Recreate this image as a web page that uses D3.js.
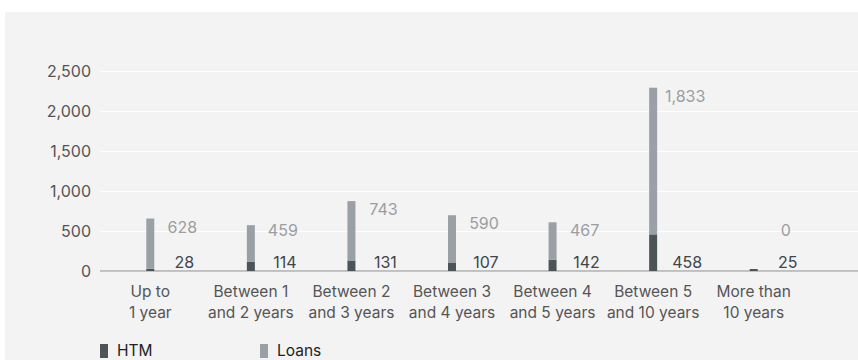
<!DOCTYPE html>
<html>
<head>
<meta charset="utf-8">
<script src="https://cdn.jsdelivr.net/npm/d3@7"></script>
<style>
  body { margin: 0; background: #fff; }
  svg text { font-family: Inter, "Open Sans", sans-serif; }
</style>
</head>
<body>
<div id="chart"></div>
<script>
// data
const categories = [
  ["Up to", "1 year"],
  ["Between 1", "and 2 years"],
  ["Between 2", "and 3 years"],
  ["Between 3", "and 4 years"],
  ["Between 4", "and 5 years"],
  ["Between 5", "and 10 years"],
  ["More than", "10 years"]
];
const htm = [28, 114, 131, 107, 142, 458, 25];
const loans = [628, 459, 743, 590, 467, 1833, 0];
const yTicks = [0, 500, 1000, 1500, 2000, 2500];
const seriesNames = ["HTM", "Loans"];

const W = 858, H = 360;
const colors = { HTM: "#4b5457", Loans: "#9aa0a5" };

let svg = d3.select("#chart")
    .append("svg")
    .attr("width", W)
    .attr("height", H);

// grey panel
svg.append("rect")
    .attr("x", 5).attr("y", 12)
    .attr("width", W - 5).attr("height", H - 12)
    .attr("fill", "#f3f3f3");

let keys = categories.map(c => c.join(" "));
let rows = keys.map((k, i) => ({ key: k, HTM: htm[i], Loans: loans[i] }));

let x = d3.scaleBand()
    .domain(keys)
    .range([100, 804]);

let y = d3.scaleLinear()
    .domain([0, 2500])
    .range([271, 71]);

// gridlines + y labels
let yAxis = svg.append("g")
    .attr("transform", "translate(100,0)")
    .call(d3.axisLeft(y).tickValues(yTicks).tickSize(-(W - 100)).tickPadding(9).tickFormat(d3.format(",")));
yAxis.select(".domain").remove();
yAxis.selectAll(".tick line").attr("stroke", "#fff").attr("stroke-width", 1.2);
yAxis.selectAll(".tick text")
    .attr("fill", "#555")
    .style("font-size", "16px");

// x axis line
svg.append("line")
    .attr("x1", 100).attr("x2", W)
    .attr("y1", y(0)).attr("y2", y(0))
    .attr("stroke", "#8a8a8a").attr("stroke-width", 1);

// stacked bars
let stacked = d3.stack().keys(seriesNames)(rows);
let barW = 8;
svg.append("g")
    .selectAll("g")
    .data(stacked)
    .enter()
    .append("g")
    .attr("fill", d => colors[d.key])
    .selectAll("rect")
    .data(d => d)
    .enter()
    .append("rect")
    .attr("x", d => x(d.data.key) + x.bandwidth() / 2 - barW / 2)
    .attr("y", d => y(d[1]))
    .attr("width", barW)
    .attr("height", d => y(d[0]) - y(d[1]));

// value labels
let lblOff = 32;
svg.append("g")
    .selectAll("text")
    .data(rows)
    .enter()
    .append("text")
    .attr("x", d => x(d.key) + x.bandwidth() / 2 + lblOff)
    .attr("y", d => Math.min(y(d.HTM + d.Loans) + 8, y(500) - 1) + 6)
    .attr("text-anchor", "middle")
    .attr("fill", "#9a9ea2")
    .style("font-size", "16px")
    .text(d => d3.format(",")(d.Loans));

svg.append("g")
    .selectAll("text")
    .data(rows)
    .enter()
    .append("text")
    .attr("x", d => x(d.key) + x.bandwidth() / 2 + lblOff + 2)
    .attr("y", y(0) - 3)
    .attr("text-anchor", "middle")
    .attr("fill", "#3f4548")
    .style("font-size", "16px")
    .text(d => d3.format(",")(d.HTM));

// category labels (two lines)
let xl = svg.append("g")
    .selectAll("text")
    .data(categories)
    .enter()
    .append("text")
    .attr("text-anchor", "middle")
    .attr("fill", "#555")
    .style("font-size", "15.5px");
xl.each(function (d, i) {
    let cx = x(keys[i]) + x.bandwidth() / 2;
    d3.select(this).selectAll("tspan")
        .data(d)
        .enter()
        .append("tspan")
        .attr("x", cx)
        .attr("y", (t, j) => 297 + j * 21)
        .text(t => t);
});

// legend
let legend = svg.append("g")
    .selectAll("g")
    .data(seriesNames)
    .enter()
    .append("g")
    .attr("transform", (d, i) => "translate(" + (100 + i * 160) + ",344)");
legend.append("rect")
    .attr("width", 8).attr("height", 14)
    .attr("fill", d => colors[d]);
legend.append("text")
    .attr("x", 17).attr("y", 12)
    .attr("fill", "#222")
    .style("font-size", "15.5px")
    .text(d => d);
</script>
</body>
</html>
